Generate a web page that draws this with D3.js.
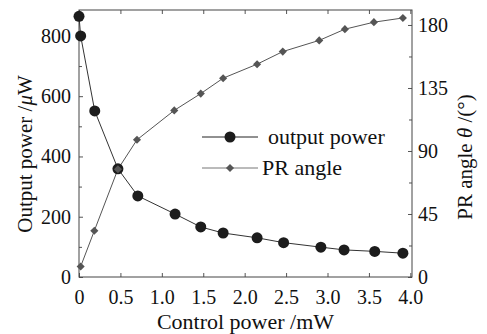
<!DOCTYPE html>
<html>
<head>
<meta charset="utf-8">
<script src="https://cdn.jsdelivr.net/npm/d3@7"></script>
<style>
  body { margin: 0; background: #fff; }
</style>
</head>
<body>
<div id="chart"></div>
<script>
// data
var powerX = [0, 0.02, 0.19, 0.47, 0.71, 1.16, 1.47, 1.74, 2.15, 2.47, 2.92, 3.20, 3.57, 3.91];
var power = [865, 800, 551, 359, 269, 209, 166, 146, 130, 114, 99, 90, 85, 79];
var angleX = [0.02, 0.185, 0.47, 0.70, 1.15, 1.47, 1.74, 2.15, 2.46, 2.90, 3.21, 3.56, 3.91];
var angle = [7.5, 33, 77, 98, 119, 131, 142, 152, 161, 169, 177, 182, 185];
var xTicks = [0, 0.5, 1.0, 1.5, 2.0, 2.5, 3.0, 3.5, 4.0];
var powerTicks = [0, 200, 400, 600, 800];
var angleTicks = [0, 45, 90, 135, 180];

var plotLeft = 79, plotRight = 412, plotTop = 10, plotBottom = 277;
var serif = "Liberation Serif";

var svg = d3.select("#chart")
    .append("svg")
    .attr("width", 487)
    .attr("height", 334)
    .style("font-family", serif);

var x = d3.scaleLinear().domain([0, 4.02]).range([plotLeft, plotRight]);
var yP = d3.scaleLinear().domain([0, 886]).range([plotBottom, plotTop]);
var yA = d3.scaleLinear().domain([0, 190.7]).range([plotBottom, plotTop]);

function styleAxis(g) {
    g.attr("font-family", null);
    g.select(".domain").remove();
    g.selectAll(".tick line").attr("stroke", "#555");
    g.selectAll(".tick text")
        .style("font-family", serif)
        .style("font-size", "20px")
        .attr("fill", "#111");
}

// bottom
svg.append("g")
    .attr("transform", "translate(0," + plotBottom + ")")
    .call(d3.axisBottom(x).tickValues(xTicks).tickSize(-4).tickPadding(13)
        .tickFormat(function (d) { return d == 0 ? "0" : d3.format(".1f")(d); }))
    .call(styleAxis);

// top
svg.append("g")
    .attr("transform", "translate(0," + plotTop + ")")
    .call(d3.axisTop(x).tickValues(xTicks).tickSize(-4).tickFormat(""))
    .call(styleAxis);

// left
svg.append("g")
    .attr("transform", "translate(" + plotLeft + ",0)")
    .call(d3.axisLeft(yP).tickValues(d3.range(100, 900, 200)).tickSize(-3).tickFormat(""))
    .call(styleAxis);
svg.append("g")
    .attr("transform", "translate(" + plotLeft + ",0)")
    .call(d3.axisLeft(yP).tickValues(powerTicks).tickSize(-4).tickPadding(8))
    .call(styleAxis);

// right
svg.append("g")
    .attr("transform", "translate(" + plotRight + ",0)")
    .call(d3.axisRight(yA).tickValues([22.5, 67.5, 112.5, 157.5]).tickSize(-3).tickFormat(""))
    .call(styleAxis);
svg.append("g")
    .attr("transform", "translate(" + plotRight + ",0)")
    .call(d3.axisRight(yA).tickValues(angleTicks).tickSize(-4).tickPadding(6))
    .call(styleAxis);

// frame
svg.append("rect")
    .attr("x", plotLeft)
    .attr("y", plotTop)
    .attr("width", plotRight - plotLeft)
    .attr("height", plotBottom - plotTop)
    .attr("fill", "none")
    .attr("stroke", "#444")
    .attr("stroke-width", 1);

// lines
var powerData = powerX.map(function (d, i) { return [d, power[i]]; });
var angleData = angleX.map(function (d, i) { return [d, angle[i]]; });

svg.append("path")
    .datum(powerData)
    .attr("fill", "none")
    .attr("stroke", "#333")
    .attr("stroke-width", 1)
    .attr("d", d3.line().x(function (d) { return x(d[0]); }).y(function (d) { return yP(d[1]); }));

svg.append("path")
    .datum(angleData)
    .attr("fill", "none")
    .attr("stroke", "#555")
    .attr("stroke-width", 1)
    .attr("d", d3.line().x(function (d) { return x(d[0]); }).y(function (d) { return yA(d[1]); }));

svg.selectAll(".dot")
    .data(powerData)
    .enter()
    .append("circle")
    .attr("class", "dot")
    .attr("cx", function (d) { return x(d[0]); })
    .attr("cy", function (d) { return yP(d[1]); })
    .attr("r", 5.5)
    .attr("fill", "#1c1c1c");

var diamond = d3.symbol().type(d3.symbolDiamond2).size(42);
svg.selectAll(".dia")
    .data(angleData)
    .enter()
    .append("path")
    .attr("class", "dia")
    .attr("transform", function (d) { return "translate(" + x(d[0]) + "," + yA(d[1]) + ")"; })
    .attr("d", diamond)
    .attr("fill", "#555");

// legend
var legend = svg.append("g").attr("id", "legend");
legend.append("line")
    .attr("x1", 202).attr("x2", 258).attr("y1", 137).attr("y2", 137)
    .attr("stroke", "#222");
legend.append("circle")
    .attr("cx", 230).attr("cy", 137).attr("r", 5.5).attr("fill", "#1c1c1c");
legend.append("text")
    .attr("x", 268).attr("y", 144)
    .style("font-size", "22px")
    .attr("fill", "#111")
    .text("output power");
legend.append("line")
    .attr("x1", 202).attr("x2", 258).attr("y1", 168).attr("y2", 168)
    .attr("stroke", "#777");
legend.append("path")
    .attr("transform", "translate(230,168)")
    .attr("d", diamond)
    .attr("fill", "#555");
legend.append("text")
    .attr("x", 262).attr("y", 175)
    .style("font-size", "22px")
    .attr("fill", "#111")
    .text("PR angle");

// axis titles
svg.append("text")
    .attr("x", (plotLeft + plotRight) / 2)
    .attr("y", 329)
    .attr("text-anchor", "middle")
    .style("font-size", "22px")
    .attr("fill", "#111")
    .text("Control power /mW");

var yt = svg.append("text")
    .attr("transform", "translate(32,154) rotate(-90)")
    .attr("text-anchor", "middle")
    .style("font-size", "21px")
    .attr("fill", "#111");
yt.append("tspan").text("Output power /");
yt.append("tspan").style("font-style", "italic").text("μ");
yt.append("tspan").text("W");

var rt = svg.append("text")
    .attr("transform", "translate(472,157) rotate(-90)")
    .attr("text-anchor", "middle")
    .style("font-size", "21px")
    .attr("fill", "#111");
rt.append("tspan").text("PR angle ");
rt.append("tspan").style("font-style", "italic").text("θ");
rt.append("tspan").text(" /(°)");
</script>
</body>
</html>
